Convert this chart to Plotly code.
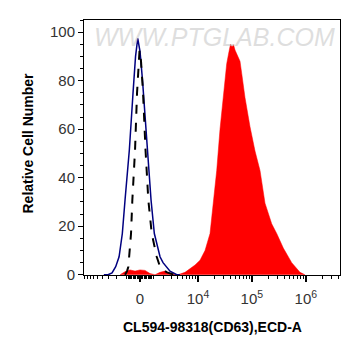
import numpy as np
import plotly.graph_objects as go

# Fluorescence intensity (ECD-A) and relative cell number
blue_x = [-3800, -3100, -2550, -2100, -1730, -1410, -1163, -803, -515, -328, -167, 0,
          182, 365, 515, 827, 1102, 1632, 1948, 2381, 2818, 3887, 4500]
blue_y = [0, 0, 0.8, 3.3, 7.4, 17, 30.8, 51.4, 75, 90, 97.4, 92,
          80, 65, 51.4, 30.8, 17, 7.4, 5, 3.3, 1.5, 0, 0]

dash_x = [-1163, -991, -884, -803, -669, -568, -365, -218, -109, -36, 72, 218,
          402, 614, 884, 1315, 1632, 1948, 2419, 3119, 4525]
dash_y = [0, 1.5, 3.3, 7.4, 17, 30.8, 51.4, 75, 88, 92.5, 88, 75,
          51.4, 30.8, 17, 7.4, 3.3, 2, 1, 0.3, 0]

red_x = [-1632, -1076, -747, -365, 0, 365, 747, 1163, 1632, 2175, 2818, 3590,
         4128, 5666, 7066, 8790, 10912, 13534, 16772, 19071, 22345, 25728, 29622,
         34255, 37791, 40290, 42959, 45798, 48824, 53159, 60418, 64957, 74783,
         92565, 114580, 141780, 175440, 233410, 289000, 383010, 547910, 780470, 965600]
red_y = [0, 1.5, 2, 1.5, 2, 1.8, 0.5, 0, 1, 1.5, 0.5, 0,
         0, 1, 2.5, 4, 6, 10, 17, 28, 43, 60, 72,
         87, 92, 95, 94, 94.8, 92.6, 91, 88, 83, 73,
         61, 51, 43, 29.5, 21, 17, 11, 5, 1, 0]

x_tick_vals = [0, 1e4, 1e5, 1e6]
x_tick_text = ["0", "10<sup>4</sup>", "10<sup>5</sup>", "10<sup>6</sup>"]
y_tick_vals = [0, 20, 40, 60, 80, 100]

W = 1700.0


def T(v):
    return np.arcsinh(np.asarray(v, dtype=float) / W) / np.log(10)


minor_vals = []
for s in (-1, 1):
    minor_vals += [s * k * 100 for k in range(1, 10)]
    minor_vals += [s * k * 1000 for k in range(1, 10)]
minor_vals += [k * 1e4 for k in range(2, 10)]
minor_vals += [k * 1e5 for k in range(2, 10)]
minor_vals += [k * 1e6 for k in range(2, 5)]

fig = go.Figure()
fig.add_trace(go.Scatter(x=T(red_x), y=red_y, mode="lines", fill="tozeroy",
                         fillcolor="#ff0000", line=dict(color="#ff0000", width=0.5),
                         hoverinfo="skip", showlegend=False))
fig.add_trace(go.Scatter(x=T(blue_x), y=blue_y, mode="lines",
                         line=dict(color="#000080", width=1.5), showlegend=False))
fig.add_trace(go.Scatter(x=T(dash_x), y=dash_y, mode="lines",
                         line=dict(color="black", width=2, dash="dash"), showlegend=False))

fig.add_annotation(text="<i>WWW.PTGLAB.COM</i>", xref="paper", yref="paper", x=0.51, y=0.995,
                   xanchor="center", yanchor="top", showarrow=False,
                   font=dict(family="Liberation Sans, Arial", size=25, color="rgba(190,190,190,0.5)"))

fig.add_annotation(text="<b>CL594-98318(CD63),ECD-A</b>", xref="paper", yref="paper",
                   x=0.5, y=-52 / 255, xanchor="center", yanchor="middle", showarrow=False,
                   font=dict(family="Liberation Sans, Arial", size=14, color="black"))
fig.add_annotation(text="<b>Relative Cell Number</b>", xref="paper", yref="paper",
                   x=-57 / 256, y=0.5 + 4 / 255, xanchor="center", yanchor="middle", textangle=-90,
                   showarrow=False, font=dict(family="Liberation Sans, Arial", size=14, color="black"))

fig.update_layout(
    width=353, height=348,
    margin=dict(l=76, r=21, t=12, b=81),
    plot_bgcolor="white", paper_bgcolor="white",
    font=dict(family="Liberation Sans, Arial", size=15, color="#333"),
    xaxis=dict(range=[float(T(-9200)), float(T(4.3e6))], tickvals=[float(v) for v in T(x_tick_vals)],
               ticktext=x_tick_text, ticks="outside", ticklen=6, tickwidth=1.5, tickcolor="black",
               showline=True, linecolor="black", linewidth=1, mirror=True,
               showgrid=False, zeroline=False, automargin=False, ticklabelstandoff=4,
               minor=dict(tickvals=[float(v) for v in T(minor_vals)], ticks="outside",
                          ticklen=3, tickwidth=1, tickcolor="black")),
    yaxis=dict(range=[-0.1, 105], tickvals=y_tick_vals, ticks="outside", ticklen=5,
               tickcolor="black", showline=True, linecolor="black", linewidth=1, mirror=True,
               showgrid=False, zeroline=False, automargin=False,
               minor=dict(dtick=5, tick0=0, ticks="outside", ticklen=3, tickcolor="black")),
)

fig.write_html("out.html")
